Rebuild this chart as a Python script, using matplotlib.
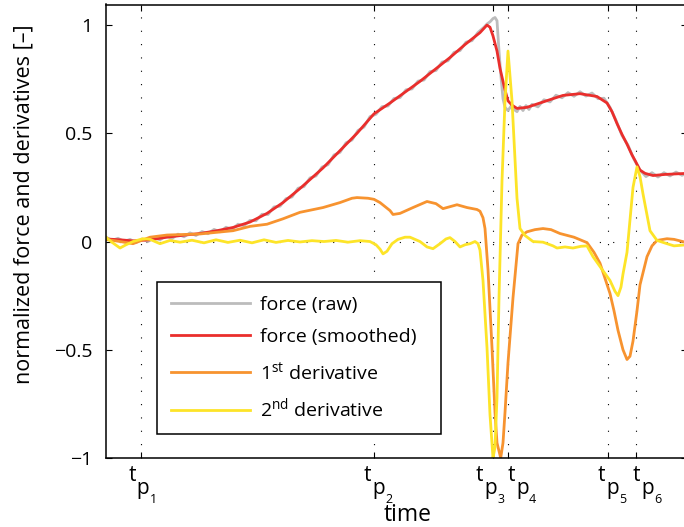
import matplotlib
matplotlib.use("Agg")
import matplotlib.pyplot as plt

plt.rcParams['font.family'] = ['Open Sans', 'DejaVu Sans']
plt.rcParams['mathtext.fontset'] = 'custom'
plt.rcParams['mathtext.rm'] = 'Open Sans'
plt.rcParams['mathtext.it'] = 'Open Sans'

# ---- data (time in arbitrary units) ----
tp_times = [34.5, 268, 387, 401.5, 501.5, 529.5]
tp_names = ['1', '2', '3', '4', '5', '6']

smooth_t = [0, 14, 27, 44, 61, 79, 94, 111, 127, 144, 161, 177, 194, 217, 234, 251,
            268, 284, 299, 314, 329, 344, 359, 374, 381, 384, 387, 391, 394, 397, 399,
            402, 406, 411, 421, 434, 447, 457, 474, 491, 501, 506, 511, 516, 521, 526,
            529, 534, 539, 547, 559, 581]
smooth_f = [0.012, 0.008, 0.003, 0.008, 0.02, 0.03, 0.037, 0.05, 0.065, 0.09, 0.13, 0.18,
            0.245, 0.34, 0.42, 0.50, 0.59, 0.64, 0.69, 0.74, 0.795, 0.85, 0.91, 0.965,
            1.0, 0.99, 0.95, 0.88, 0.80, 0.74, 0.70, 0.65, 0.63, 0.615, 0.62, 0.64,
            0.66, 0.675, 0.683, 0.67, 0.64, 0.60, 0.545, 0.495, 0.45, 0.40, 0.375,
            0.33, 0.315, 0.305, 0.31, 0.315]

raw_t = [0, 6, 12, 18, 24, 30, 36, 42, 48, 54, 60, 66, 72, 78, 84, 90, 96, 102, 108,
         114, 120, 126, 132, 138, 144, 150, 156, 162, 168, 174, 180, 186, 192, 198,
         204, 210, 216, 222, 228, 234, 240, 246, 252, 258, 264, 270, 276, 282, 288,
         294, 300, 306, 312, 318, 324, 330, 336, 342, 348, 354, 360, 366, 372, 378,
         381, 384, 387, 389, 391, 392, 393, 395, 397, 399, 402, 405, 408, 411, 414,
         417, 420, 423, 426, 432, 438, 444, 450, 456, 462, 468, 474, 480, 486, 492,
         498, 504, 510, 516, 522, 528, 534, 540, 546, 552, 558, 564, 570, 576, 581]
raw_f = [0.02, 0.005, 0.015, 0.0, 0.01, -0.005, 0.012, 0.0, 0.018, 0.008, 0.026, 0.014,
         0.034, 0.022, 0.04, 0.028, 0.046, 0.036, 0.056, 0.045, 0.066, 0.056, 0.08,
         0.073, 0.098, 0.096, 0.126, 0.125, 0.16, 0.163, 0.198, 0.206, 0.246, 0.254,
         0.294, 0.303, 0.344, 0.355, 0.40, 0.412, 0.456, 0.469, 0.513, 0.529, 0.577,
         0.588, 0.623, 0.626, 0.661, 0.665, 0.701, 0.705, 0.741, 0.746, 0.785, 0.79,
         0.829, 0.835, 0.874, 0.882, 0.921, 0.928, 0.966, 0.99, 1.005, 1.015, 1.03,
         1.035, 1.02, 0.95, 0.88, 0.76, 0.66, 0.62, 0.605, 0.625, 0.61, 0.60, 0.624,
         0.605, 0.628, 0.61, 0.634, 0.622, 0.655, 0.645, 0.676, 0.664, 0.688, 0.671,
         0.692, 0.672, 0.686, 0.66, 0.662, 0.62, 0.56, 0.49, 0.445, 0.38, 0.33, 0.30,
         0.318, 0.298, 0.318, 0.303, 0.321, 0.306, 0.316]

d1_t = [0, 14, 27, 44, 61, 94, 127, 144, 161, 177, 194, 217, 234, 246, 251, 262, 268,
        274, 284, 287, 294, 307, 321, 330, 337, 351, 361, 371, 374, 377, 379, 382, 386,
        389, 391, 394.7, 397, 399, 402, 407, 412, 416, 421, 429, 437, 445, 454, 468,
        481, 488, 494, 499, 504, 508, 512, 517, 521, 524, 527, 531, 534, 541, 546,
        551, 561, 568, 581]
d1_v = [0.01, 0.0, -0.01, 0.02, 0.03, 0.035, 0.05, 0.07, 0.08, 0.105, 0.135, 0.157,
        0.18, 0.2, 0.203, 0.2, 0.195, 0.18, 0.143, 0.125, 0.13, 0.157, 0.185, 0.175,
        0.152, 0.17, 0.157, 0.148, 0.14, 0.11, 0.06, -0.13, -0.49, -0.79, -0.93, -1.0,
        -0.93, -0.79, -0.56, -0.26, -0.01, 0.03, 0.045, 0.055, 0.06, 0.055, 0.037,
        0.02, -0.005, -0.05, -0.1, -0.17, -0.24, -0.32, -0.41, -0.5, -0.545, -0.53,
        -0.46, -0.32, -0.2, -0.07, -0.02, 0.005, 0.013, 0.01, -0.005]

d2_t = [0, 5, 14, 20, 27, 37, 44, 54, 64, 74, 86, 98, 110, 122, 134, 146, 158, 170,
        182, 194, 206, 218, 230, 242, 254, 264, 270, 274, 277, 281, 286, 292, 299, 304,
        314, 321, 327, 334, 340, 344, 349, 354, 359, 364, 369, 372, 374, 377, 381, 384,
        387, 389, 391, 393, 396, 399, 402, 406, 411, 414, 419, 427, 437, 447, 451, 459,
        467, 475, 481, 487, 497, 504, 509, 512, 515, 517, 521, 524, 527, 531, 534, 537,
        544, 551, 561, 568, 581]
d2_v = [0.02, 0.0, -0.03, -0.015, 0.0, 0.013, 0.01, -0.01, 0.005, -0.003, 0.006, -0.006,
        0.008, -0.004, 0.006, -0.006, 0.008, -0.004, 0.005, -0.002, 0.004, 0.0, 0.005,
        -0.003, 0.004, 0.0, -0.015, -0.035, -0.057, -0.045, -0.01, 0.01, 0.02, 0.02,
        0.0, -0.025, -0.033, -0.01, 0.012, 0.018, 0.0, -0.025, -0.015, -0.01, 0.0,
        -0.01, -0.04, -0.18, -0.49, -0.80, -1.0, -0.95, -0.72, -0.26, 0.28, 0.65,
        0.88, 0.65, 0.2, 0.06, 0.028, 0.0, -0.003, -0.02, -0.03, -0.025, -0.03,
        -0.022, -0.02, -0.07, -0.135, -0.18, -0.23, -0.25, -0.21, -0.15, -0.05, 0.1,
        0.25, 0.345, 0.3, 0.22, 0.05, 0.005, -0.01, -0.02, -0.015]

yticks = [-1, -0.5, 0, 0.5, 1]
ytick_labels = ['\u22121', '\u22120.5', '0', '0.5', '1']

legend_labels = ['force (raw)', 'force (smoothed)',
                 '1$^{\\mathrm{st}}$ derivative', '2$^{\\mathrm{nd}}$ derivative']

c_raw, c_smooth, c_d1, c_d2 = '#bcbcbc', '#ea2e2c', '#f7932f', '#fde428'

# ---- figure ----
W, H = 684, 527
fig = plt.figure(figsize=(W / 100, H / 100), dpi=100)
ax = fig.add_axes([106 / W, (H - 458) / H, 581 / W, 453.5 / H])

for t in tp_times:
    ax.axvline(t, color='k', lw=0.8, ls=(0, (1, 11)), zorder=0.5)
ax.axhline(0, color='k', lw=0.8, ls=(0, (1, 11)), zorder=0.5)

lw = 2.0
ax.plot(raw_t, raw_f, color=c_raw, lw=lw, label=legend_labels[0])
ax.plot(smooth_t, smooth_f, color=c_smooth, lw=lw, label=legend_labels[1])
ax.plot(d1_t, d1_v, color=c_d1, lw=lw, label=legend_labels[2])
ax.plot(d2_t, d2_v, color=c_d2, lw=lw, label=legend_labels[3])

ax.set_xlim(0, 581)
ax.set_ylim(-1, 1.095)
ax.set_yticks(yticks)
ax.set_yticklabels(ytick_labels)
ax.set_xticks(tp_times)
ax.set_xticklabels([''] * len(tp_times))
ax.tick_params(direction='in', top=True, right=True, length=4, width=0.8,
               labelsize=14, pad=10)
for s in ax.spines.values():
    s.set_linewidth(1.1)

# t_p labels: "t" over a shifted "p" in one text, the index digit beside it
t_shift_px = [-12, -10, -17, 0, -10, -3]   # left edge of "t" relative to tick
pt = 72 / 100.0
for t, n, dx in zip(tp_times, tp_names, t_shift_px):
    # anchor = baseline of the last line ("p")
    ax.annotate('t\n \u2009p', xy=(t, 0), xycoords=('data', 'axes fraction'),
                xytext=(dx * pt, -26), textcoords='offset points',
                ha='left', va='baseline', fontsize=15, linespacing=0.52)
    ax.annotate(n, xy=(t, 0), xycoords=('data', 'axes fraction'),
                xytext=((dx + 21.5) * pt, -32.5), textcoords='offset points',
                ha='left', va='baseline', fontsize=9)

fig.text(408 / W, 1 - 521 / H, 'time', ha='center', va='baseline', fontsize=16.5)
fig.text(24 / W, 1 - 204 / H, 'normalized force and derivatives [\u2013]',
         ha='center', va='center', rotation=90, fontsize=15.5)

leg = ax.legend(loc='upper left', bbox_to_anchor=(0.088, 0.057, 0.489, 0.331),
                mode='expand', borderaxespad=0, fontsize=14, handlelength=4.1,
                handletextpad=0.5, labelspacing=0.75, borderpad=0.7,
                fancybox=False, edgecolor='k', framealpha=1)
leg.get_frame().set_linewidth(1.1)

fig.savefig('out.png', dpi=100)
